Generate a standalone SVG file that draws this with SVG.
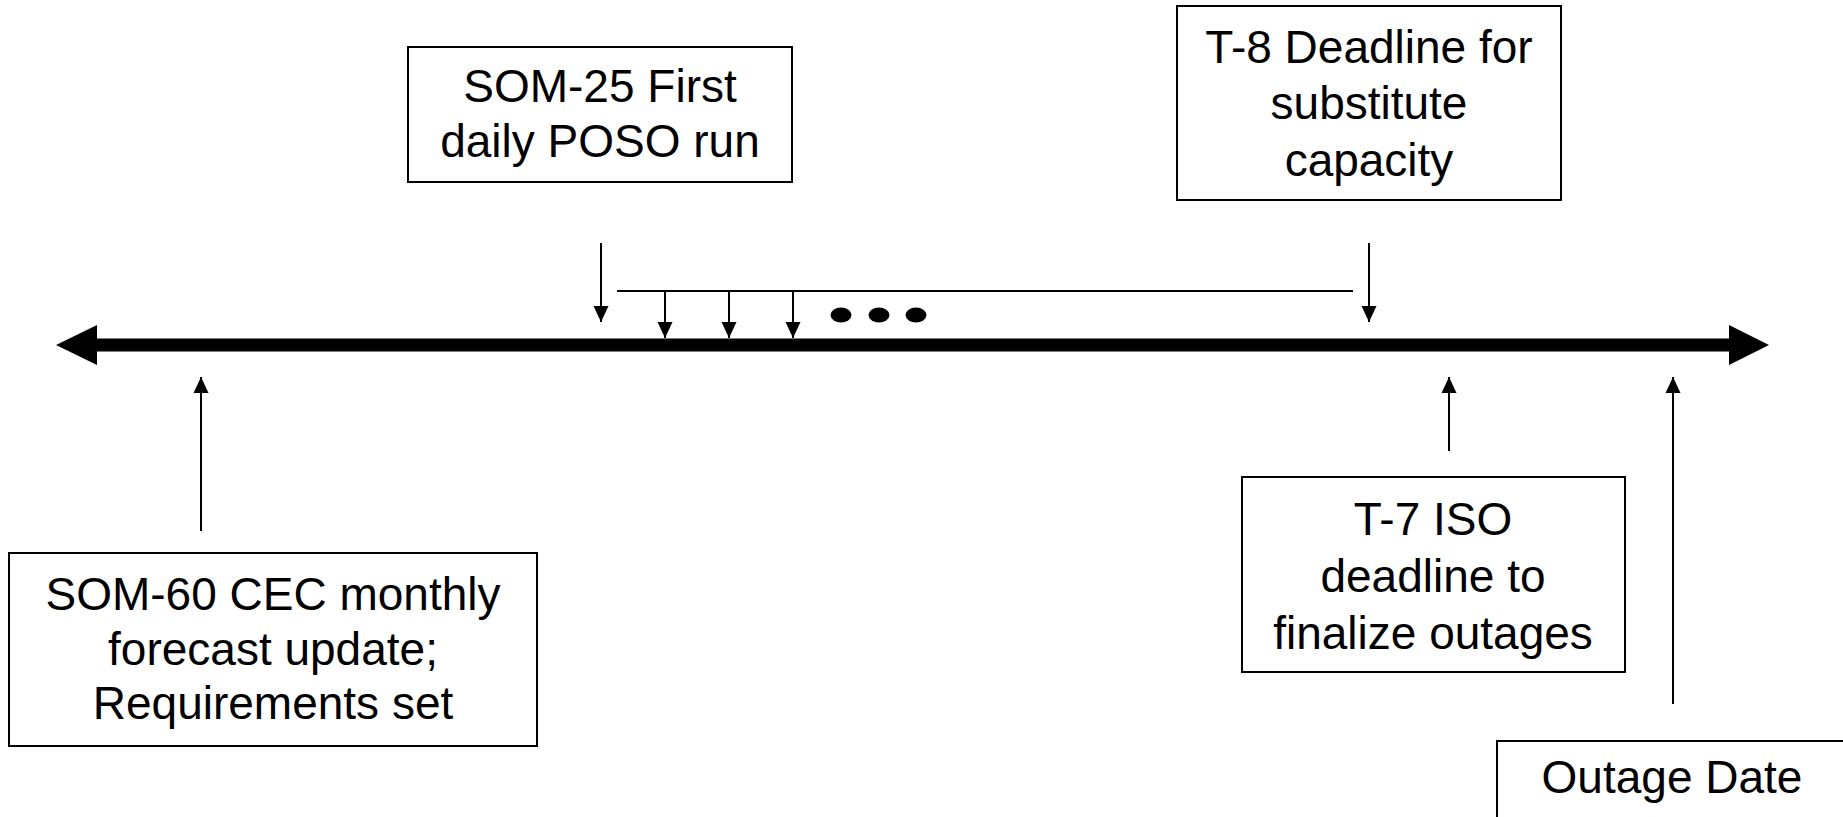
<svg xmlns="http://www.w3.org/2000/svg" width="1843" height="817" viewBox="0 0 1843 817">
<style>
.box{fill:#fff;stroke:#000;stroke-width:2}
.lbl{font-family:"Liberation Sans",Arial,sans-serif;font-size:46px;fill:#000;text-anchor:middle}
.conn{stroke:#000;stroke-width:2;fill:none}
</style>
<defs>
<marker id="ah" markerUnits="userSpaceOnUse" markerWidth="16" markerHeight="16" refX="16" refY="8" orient="auto">
<path d="M0,0.5 L16,8 L0,15.5 z" fill="#000"/>
</marker>
</defs>
<rect width="1843" height="817" fill="#fff"/>
<g id="timeline">
<line x1="96" y1="345" x2="1730" y2="345" stroke="#000" stroke-width="13"/>
<polygon points="56,345 97,325 97,365" fill="#000"/>
<polygon points="1769,345 1729,325 1729,365" fill="#000"/>
</g>
<g id="connectors">
<line class="conn" x1="601" y1="243" x2="601" y2="322" marker-end="url(#ah)"/>
<line class="conn" x1="617" y1="291" x2="1353" y2="291"/>
<line class="conn" x1="665" y1="291" x2="665" y2="338" marker-end="url(#ah)"/>
<line class="conn" x1="729" y1="291" x2="729" y2="338" marker-end="url(#ah)"/>
<line class="conn" x1="793" y1="291" x2="793" y2="338" marker-end="url(#ah)"/>
<line class="conn" x1="1369" y1="243" x2="1369" y2="322" marker-end="url(#ah)"/>
<line class="conn" x1="201" y1="531" x2="201" y2="377" marker-end="url(#ah)"/>
<line class="conn" x1="1449" y1="451" x2="1449" y2="377" marker-end="url(#ah)"/>
<line class="conn" x1="1673" y1="704" x2="1673" y2="377" marker-end="url(#ah)"/>
</g>
<g id="ellipsis">
<ellipse cx="841" cy="315" rx="10.5" ry="7.5" fill="#000"/>
<ellipse cx="879" cy="315" rx="10.5" ry="7.5" fill="#000"/>
<ellipse cx="916" cy="315" rx="10.5" ry="7.5" fill="#000"/>
</g>
<g id="som25">
<rect class="box" x="408" y="47" width="384" height="135"/>
<text class="lbl" x="600" y="102">SOM-25 First</text>
<text class="lbl" x="600" y="157">daily POSO run</text>
</g>
<g id="t8">
<rect class="box" x="1177" y="6" width="384" height="194"/>
<text class="lbl" x="1369" y="63">T-8 Deadline for</text>
<text class="lbl" x="1369" y="119">substitute</text>
<text class="lbl" x="1369" y="176">capacity</text>
</g>
<g id="som60">
<rect class="box" x="9" y="553" width="528" height="193"/>
<text class="lbl" x="273" y="610">SOM-60 CEC monthly</text>
<text class="lbl" x="273" y="665">forecast update;</text>
<text class="lbl" x="273" y="719">Requirements set</text>
</g>
<g id="t7">
<rect class="box" x="1242" y="477" width="383" height="195"/>
<text class="lbl" x="1433" y="535">T-7 ISO</text>
<text class="lbl" x="1433" y="592">deadline to</text>
<text class="lbl" x="1433" y="649">finalize outages</text>
</g>
<g id="outage">
<rect class="box" x="1497" y="741" width="360" height="100"/>
<text class="lbl" x="1672" y="793">Outage Date</text>
</g>
</svg>
